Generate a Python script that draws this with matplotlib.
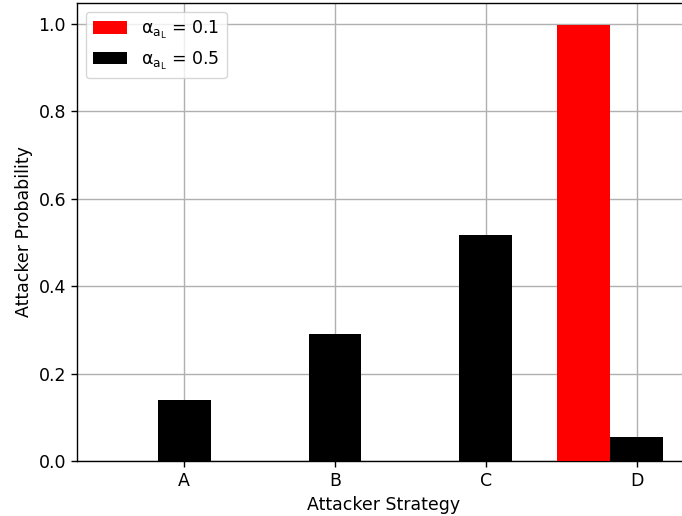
import numpy as np
import matplotlib.pyplot as plt

plt.rcParams['font.size'] = 12.5
plt.rcParams['mathtext.default'] = 'regular'
plt.rcParams['axes.linewidth'] = 1.0
plt.rcParams['xtick.major.width'] = 1.0
plt.rcParams['ytick.major.width'] = 1.0
plt.rcParams['xtick.major.size'] = 4.4
plt.rcParams['ytick.major.size'] = 4.4
plt.rcParams['grid.linewidth'] = 1.0

strategies = ['A', 'B', 'C', 'D']
prob_alpha_01 = [0.0, 0.0, 0.0, 0.998]
prob_alpha_05 = [0.14, 0.29, 0.516, 0.055]

x = np.arange(len(strategies))
width = 0.35

fig = plt.figure(figsize=(6.82, 5.16), dpi=100)
ax = fig.add_axes([77 / 682, 55 / 516, 614 / 682, 458 / 516])

ax.bar(x - width, prob_alpha_01, width, color='red', label=r'$\alpha_{a_L}$ = 0.1', zorder=3)
ax.bar(x, prob_alpha_05, width, color='black', label=r'$\alpha_{a_L}$ = 0.5', zorder=3)

ax.set_xticks(x)
ax.set_xticklabels(strategies)
ax.set_xlabel('Attacker Strategy')
ax.set_ylabel('Attacker Probability')
ax.grid(True, color='#b0b0b0', zorder=0)
ax.legend(loc='upper left')

fig.savefig('out.png', dpi=100)
